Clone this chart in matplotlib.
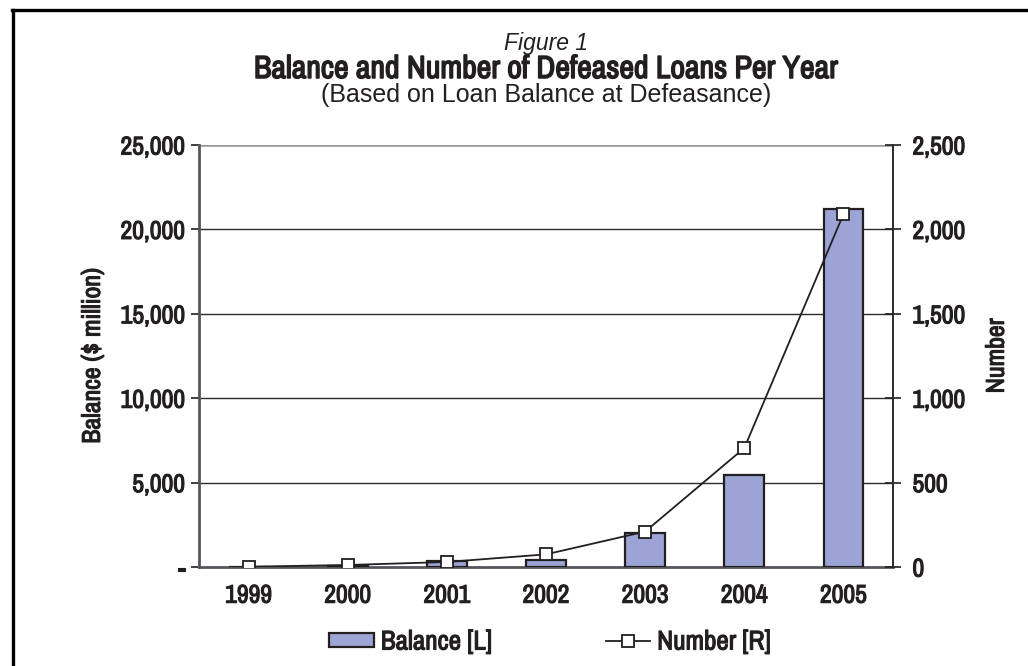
import matplotlib.pyplot as plt
import matplotlib.patheffects as pe
from matplotlib import font_manager
from matplotlib.lines import Line2D
from matplotlib.patches import Patch
from matplotlib.ticker import FuncFormatter, MultipleLocator

# data
years = ["1999", "2000", "2001", "2002", "2003", "2004", "2005"]
balance = [10, 60, 330, 420, 2000, 5450, 21200]      # $ million, left axis
number = [2, 12, 30, 75, 210, 705, 2090]             # loans, right axis

# pick a narrow face if one is installed
names = sorted({f.name for f in font_manager.fontManager.ttflist})
narrow = [n for n in names if "Narrow" in n or "Condensed" in n]
cond = narrow[:1] + ["DejaVu Sans"]
plain = ["Liberation Sans", "DejaVu Sans"]
ink = "#231f20"
bar_fc = "#9ba4d4"
# thicken the narrow face so it reads as heavy
heavy = [pe.withStroke(linewidth=0.8, foreground=ink)]

fig = plt.figure(figsize=(10.28, 6.66), dpi=100, facecolor="white")
ax = fig.add_axes([0.1936, 0.1486, 0.6751, 0.6337])
ax2 = ax.twinx()

x = range(len(years))
ax.bar(x, balance, width=0.4, color=bar_fc, edgecolor=ink, linewidth=1.6, zorder=3)
ax2.plot(x, number, color=ink, lw=1.3, marker="s", ms=9, mfc="white",
         mec=ink, mew=1.3, zorder=4)

ax.set_xlim(-0.5, 6.5)
ax.set_ylim(0, 25000)
ax2.set_ylim(0, 2500)
ax.yaxis.set_major_locator(MultipleLocator(5000))
ax2.yaxis.set_major_locator(MultipleLocator(500))

# horizontal grid, top one lighter and heavier
for v in [5000, 10000, 15000, 20000]:
    ax.axhline(v, color="#2b2b2b", lw=1.0, zorder=1)
ax.axhline(25000, color="#9a9a9a", lw=2.6, zorder=1)

ax.spines["top"].set_visible(False)
ax2.spines["top"].set_visible(False)
ax.spines["left"].set_color("#55555c")
ax.spines["left"].set_linewidth(2.0)
ax.spines["bottom"].set_color("#55555c")
ax.spines["bottom"].set_linewidth(2.0)
ax.spines["right"].set_visible(False)
ax2.spines["left"].set_visible(False)
ax2.spines["bottom"].set_visible(False)
ax2.spines["right"].set_color("#2b2b2b")
ax2.spines["right"].set_linewidth(1.4)

ax.set_xticks(list(x))
ax.set_xticklabels(years)
ax.tick_params(axis="x", length=0, pad=12)
ax.tick_params(axis="y", direction="out", length=6, width=1.2, color=ink, pad=4)
ax2.tick_params(axis="y", direction="inout", length=12, width=1.2, color=ink, pad=8)

ax.yaxis.set_major_formatter(FuncFormatter(lambda v, p: "-" if v == 0 else f"{v:,.0f}"))
ax2.yaxis.set_major_formatter(FuncFormatter(lambda v, p: f"{v:,.0f}"))

for lab in ax.get_xticklabels() + ax.get_yticklabels() + ax2.get_yticklabels():
    lab.set_fontfamily(cond)
    lab.set_fontweight("bold")
    lab.set_fontsize(18.5)
    lab.set_color(ink)
    lab.set_path_effects(heavy)

ax.set_ylabel("Balance ($ million)", family=cond, weight="bold", fontsize=18.5,
              color=ink, labelpad=12, path_effects=heavy)
ax2.set_ylabel("Number", family=cond, weight="bold", fontsize=18.5,
               color=ink, labelpad=14, path_effects=heavy)

# titles
fig.text(0.531, 0.9249, "Figure 1", ha="center", va="baseline", family=plain,
         style="italic", fontsize=16.5, color=ink)
fig.text(0.531, 0.8829, "Balance and Number of Defeased Loans Per Year", ha="center",
         va="baseline", family=cond, weight="bold", fontsize=23, color=ink,
         path_effects=[pe.withStroke(linewidth=1.1, foreground=ink)])
fig.text(0.531, 0.8468, "(Based on Loan Balance at Defeasance)", ha="center",
         va="baseline", family=plain, fontsize=18, color=ink)

# legend
handles = [Patch(facecolor=bar_fc, edgecolor=ink, linewidth=1.6),
           Line2D([], [], color=ink, lw=1.3, marker="s", ms=8, mfc="white",
                  mec=ink, mew=1.3)]
leg = fig.legend(handles, ["Balance [L]", "Number [R]"], loc="center",
                 bbox_to_anchor=(0.535, 0.036), ncol=2, frameon=False,
                 handlelength=1.65, handleheight=0.45, handletextpad=0.25,
                 columnspacing=4.2,
                 prop={"family": cond, "weight": "bold", "size": 19.5})
for t in leg.get_texts():
    t.set_color(ink)
    t.set_path_effects(heavy)

# page frame (left and top rules)
fig.add_artist(Line2D([0.0126, 0.0126], [0, 0.985], color="black", lw=2.4,
                      transform=fig.transFigure))
fig.add_artist(Line2D([0.0115, 1.0], [0.985, 0.985], color="black", lw=2.4,
                      transform=fig.transFigure))

fig.savefig("out.png", dpi=100, facecolor="white")
